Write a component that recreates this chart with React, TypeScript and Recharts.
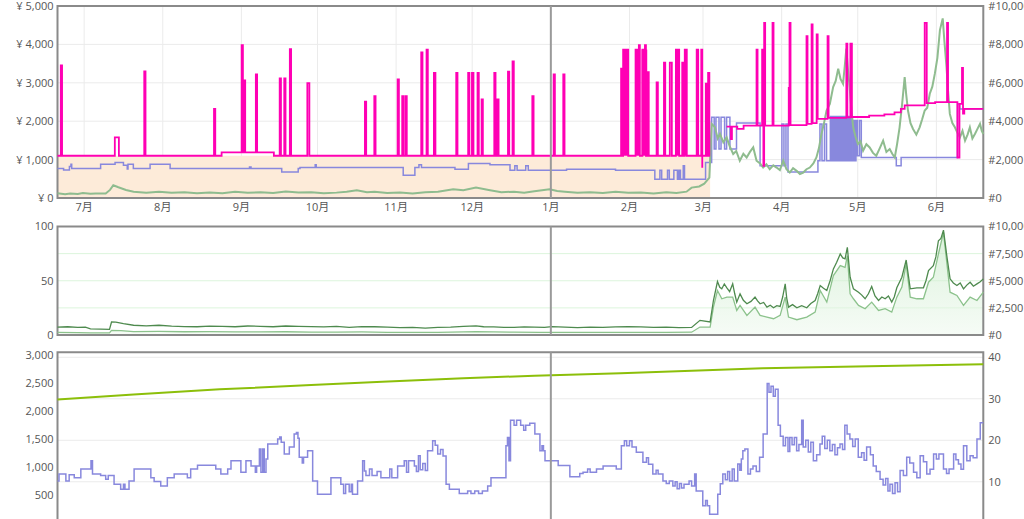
import React from 'react';
import { ComposedChart, Line, Area, XAxis, YAxis, CartesianGrid, ReferenceLine, ReferenceArea } from 'recharts';

type P = [number, number | null];

// x = days since 20 Jun
const monthTicks = [10.5, 41.5, 72.5, 102.5, 133.5, 163.5, 194.5, 225.5, 254.5, 285.5, 315.5, 346.5];
const monthLabels = ['7月', '8月', '9月', '10月', '11月', '12月', '1月', '2月', '3月', '4月', '5月', '6月'];
const yearMark = 194.5;

const priceTicks = [0, 1000, 2000, 3000, 4000, 5000];
const rankTicks = [0, 2000, 4000, 6000, 8000, 10000];
const pctTicks = [0, 50, 100];
const rank2Ticks = [0, 2500, 5000, 7500, 10000];
const countTicks = [500, 1000, 1500, 2000, 2500, 3000];
const offerTicks = [10, 20, 30, 40];

// top panel
const amazonPrice: P[] = [[0, 1100], [257.3, 1100]];
const buyBoxLevels: P[] = [[0, 1100], [64.7, 1190], [85.3, 1100], [257.3, 1100]];
// [day, price, duration]
const buyBoxSpikes = [
  [1.3, 3450, .5], [22.6, 1580, 1.6], [34.2, 3300, .5], [61.7, 2320, .5], [72.6, 3980, .5], [73.6, 3060, .4],
  [78.2, 3220, .5], [87.6, 3115, .5], [89.4, 3115, .5], [91.6, 3875, .5], [98.5, 2990, .8], [121.2, 2510, .5],
  [124.9, 2650, .5], [134.1, 3090, .5], [135.9, 2650, .5], [137.2, 2650, .5], [143.4, 3790, .5], [145.5, 3865, .5],
  [148.4, 3260, .6], [157.2, 3260, .5], [161.9, 3260, .5], [163.4, 3260, .6], [165.6, 3260, .5], [167.2, 2565, .5],
  [172.2, 3260, .5], [173.4, 2565, .5], [177.6, 3290, .5], [179.4, 3560, .5], [187.2, 2650, .5], [195.6, 3220, .5],
  [199.4, 3220, .5], [222.2, 3370, .6], [223, 3865, 2], [227.9, 3865, 1.7], [229.2, 3980, .4], [230.6, 3865, 1.9],
  [231.6, 3980, .4], [232.5, 3280, .6], [236.2, 3010, .5], [239.1, 3525, .5], [241.4, 3525, .8], [243.8, 3865, 1.3],
  [245.1, 3525, .4], [246.3, 3525, .5], [247.3, 3865, .8], [252, 3865, .6], [253.8, 3865, .4], [254.2, 790, .3],
  [255.6, 2975, .4], [256.5, 3255, .5],
];
const buyBoxLate: P[] = [
  [257.4, null], [263.8, 1860], [265.5, 1535], [265.9, 1860], [268, 1800], [270.5, 1885], [275.6, 3865], [276, 1885],
  [277.8, 3865], [278.3, 840], [278.6, 4560], [279, 1885], [281.9, 4560], [282.3, 1885], [288.3, 2870], [288.6, 4560],
  [289, 1900], [295.3, 4215], [295.7, 1930], [297.3, 4520], [297.7, 1950], [299.3, 4260], [299.7, 2060], [303.6, 4215],
  [304, 2085], [311, 4020], [311.4, 2100], [312.6, 4020], [313.2, 2110], [320, 2145], [326, 2180], [330, 2230],
  [332.5, 2320], [334, 2410], [341.9, 4560], [342.7, 2470], [346, 2495], [350.7, 4560], [351.1, 2495], [354.8, 1055],
  [355.6, 2450], [356.6, 3385], [357, 2200], [357.5, 2320], [365, 2320],
];
// [start, end, top]
const buyBoxBlocks = [[223, 225, 3865], [227.9, 229.6, 3865], [230.3, 232.5, 3865], [243.8, 245.1, 3865], [247.3, 248.1, 3865]];

const newPrice: P[] = [
  [0, 770], [2.4, 730], [4.7, 820], [5.3, 880], [5.6, 770], [17, 880], [22.7, 925], [26, 855], [27.5, 755], [27.8, 880],
  [29.9, 770], [36.5, 880], [44.4, 770], [75.7, 810], [76.3, 770], [88.4, 680], [94.9, 770], [95.6, 793], [101.6, 865],
  [102, 793], [136.3, 595], [140.9, 793], [142.5, 865], [143.5, 793], [156.7, 750], [162, 900], [170.5, 865], [178.4, 725],
  [180.3, 840], [181.2, 725], [184.6, 840], [185.6, 725], [200.7, 750], [220, 720], [235.5, 490], [237.5, 720], [238.2, 490],
  [240.5, 720], [241.2, 490], [243, 720], [244.4, 490], [245, 720], [245.6, 490], [246.7, 840], [247.2, 490], [255.5, 925],
  [257.9, 2100], [258.9, 1275], [259.6, 2100], [260.8, 1275], [261.6, 2100], [263, 1275], [263.8, 2100], [265.1, 1275],
  [267.7, 1950], [277, 840], [285.6, 1930], [286.4, 840], [287.2, 1930], [288, 680], [299.8, 970], [300.6, 1930],
  [301.4, 970], [302.4, 1930], [303.2, 970], [313.6, 2015], [314.2, 970], [314.8, 2015], [315.4, 1100], [316.2, 2015],
  [316.9, 1055], [330.7, 840], [332.6, 1055], [354.8, 2450], [355.7, 2320], [365, 2320],
];
const newPriceBlocks = [[304.4, 313.6, 970, 2145]];

const salesRank: P[] = [
  [0, 250], [3, 200], [5, 240], [8, 210], [10, 260], [13, 220], [15, 240], [19, 230], [20.7, 420], [22, 665], [24, 560],
  [27, 420], [30, 330], [35, 280], [40, 330], [45, 270], [50, 300], [55, 250], [60, 290], [65, 250], [70, 320], [75, 270],
  [80, 300], [85, 260], [90, 340], [95, 290], [100, 300], [105, 250], [110, 280], [114, 330], [118, 400], [122, 300],
  [125, 330], [130, 260], [135, 280], [140, 230], [145, 300], [150, 320], [156, 455], [160, 400], [165, 540], [170, 420],
  [175, 300], [180, 330], [184, 270], [188, 350], [194, 455], [197, 360], [200, 330], [205, 270], [210, 300], [215, 260],
  [220, 320], [225, 270], [230, 280], [235, 240], [240, 300], [244, 260], [248, 330], [250, 540], [253, 600], [255, 750],
  [257, 1060], [257.9, 3860], [259.2, 3680], [260.3, 3100], [261.2, 3335], [262.5, 2900], [263.8, 3160], [265, 2700],
  [266.4, 2290], [267.6, 2450], [269, 1940], [270.4, 2300], [271.7, 2110], [273, 2400], [274.3, 2635], [275.6, 1940],
  [277, 1800], [278.2, 1585], [279.5, 1750], [280.8, 1500], [282.2, 1700], [283.5, 1585], [284.8, 1450], [286.1, 1940],
  [287.4, 1500], [288.7, 1325], [290, 1550], [291.4, 1415], [292.7, 1250], [294, 1325], [295.3, 1500], [296.6, 1585],
  [298, 1800], [299.2, 2110], [300.2, 2600], [301.2, 3335], [302.2, 3900], [303.2, 4555], [304.5, 4900], [305.8, 5775],
  [306.8, 6100], [307.8, 6740], [308.7, 6200], [309.7, 5950], [310.4, 6900], [311, 7785], [311.7, 6600], [312.3, 5775],
  [313, 4600], [313.7, 3680], [314.6, 3200], [315.6, 2810], [316.6, 2950], [317.6, 2460], [318.9, 2800], [320.2, 2635],
  [321.5, 2350], [322.8, 2200], [324.2, 2600], [325.5, 2985], [326.8, 2400], [328.1, 2550], [329.1, 2300], [330.1, 2110],
  [331, 2800], [332, 3680], [333, 4900], [334, 6300], [334.6, 5400], [335.3, 4555], [336.3, 3900], [337.3, 3595],
  [338.6, 3300], [339.9, 3680], [340.9, 4100], [341.9, 4555], [342.9, 4700], [343.9, 5430], [344.9, 5800], [345.9, 6475],
  [346.9, 7300], [347.9, 8745], [349, 9355], [349.7, 8100], [350.5, 6820], [351.1, 5600], [351.8, 4380], [352.8, 3900],
  [353.8, 3680], [354.8, 3400], [355.8, 3160], [356.8, 3500], [357.8, 2985], [358.8, 3300], [359.7, 3680], [360.7, 3100],
  [361.7, 3335], [362.7, 3600], [363.7, 3860], [364.4, 3500], [365, 3335],
];

// middle panel
const rankHigh: P[] = [
  [0, 730], [4, 760], [8, 700], [11, 720], [13, 560], [17, 540], [20.5, 520], [21.3, 1200], [23, 1180], [26, 1050],
  [30, 900], [35, 850], [40, 900], [45, 820], [50, 780], [55, 760], [60, 820], [65, 800], [70, 760], [75, 830], [80, 800],
  [85, 760], [90, 830], [95, 800], [100, 780], [105, 740], [110, 800], [115, 700], [120, 780], [125, 760], [130, 720],
  [135, 680], [140, 700], [145, 640], [150, 700], [155, 720], [160, 800], [165, 850], [168, 760], [172, 740], [176, 700],
  [180, 700], [184, 740], [188, 720], [192, 700], [195, 780], [200, 720], [205, 680], [210, 720], [215, 700], [220, 740],
  [225, 760], [230, 740], [235, 700], [240, 730], [245, 680], [250, 700], [253.3, 1350], [257.3, 1200], [258.6, 3180],
  [260.2, 4925], [261.1, 4400], [261.9, 4255], [262.9, 4700], [263.9, 4350], [265, 4000], [266.2, 4715], [267, 3800],
  [267.8, 3030], [269.1, 3790], [270.4, 3200], [271.8, 2880], [273.4, 3100], [275, 3490], [276, 3150], [277, 2880],
  [278.4, 3000], [279.7, 2570], [281, 2750], [282.3, 2510], [283.6, 2700], [284.9, 2630], [285.9, 3500], [286.9, 4715],
  [287.5, 3400], [288.2, 2570], [289.8, 2800], [291.5, 2510], [293.4, 2700], [295.4, 2510], [297, 2900], [298.7, 3180],
  [299.7, 3800], [300.7, 4560], [302, 4300], [303.3, 4100], [304.6, 5000], [305.9, 6090], [307.2, 6700], [308.6, 7465],
  [309.6, 7100], [310.5, 7010], [311.4, 8075], [312.5, 5320], [313.8, 4255], [315.8, 3945], [317, 3700], [318.4, 3340],
  [319.7, 3800], [321, 4470], [322.3, 3600], [323.7, 3180], [325, 3500], [326.3, 3340], [327.6, 3600], [328.9, 3030],
  [329.9, 3500], [330.9, 4350], [332.9, 5320], [334.6, 6915], [336.2, 4255], [338.8, 4350], [341.4, 4350], [342.4, 5000],
  [343.4, 5935], [345.3, 6395], [346.3, 7200], [347.3, 8690], [348.3, 8900], [349.3, 9670], [350.6, 7310], [351.9, 5175],
  [353.2, 4800], [354.6, 4560], [355.9, 4800], [357.2, 4255], [358.5, 4600], [359.8, 4865], [361.1, 4500], [362.5, 4715],
  [363.8, 4900], [365, 5175],
];
const rankLow: P[] = [
  [0, 250], [8, 220], [13, 200], [20.5, 190], [21.3, 420], [25, 400], [30, 320], [40, 330], [50, 300], [60, 310],
  [70, 280], [80, 290], [90, 300], [100, 270], [110, 260], [120, 280], [130, 250], [140, 240], [150, 250], [160, 280],
  [165, 320], [172, 280], [180, 260], [190, 250], [200, 250], [210, 240], [220, 250], [230, 240], [240, 250], [250, 260],
  [253.3, 735], [257.3, 735], [258.6, 2570], [260.2, 4100], [261.9, 3340], [263.9, 3490], [266.2, 3490], [267.8, 2265],
  [269.1, 2725], [271.8, 1810], [275, 2570], [277, 1810], [279.7, 1650], [282.3, 1500], [284.9, 1810], [286.9, 3490],
  [288.2, 1650], [291.5, 1410], [295.4, 1650], [298.7, 2110], [300.7, 4100], [303.3, 3030], [305.9, 5475], [308.6, 6395],
  [310.5, 6240], [311.4, 7310], [312.5, 3790], [313.8, 3340], [315.8, 2725], [318.4, 2420], [321, 3030], [323.7, 2265],
  [326.3, 2420], [328.9, 2110], [330.9, 3490], [332.9, 4410], [334.6, 6550], [336.2, 3490], [338.8, 3340], [341.4, 3340],
  [343.4, 4865], [345.3, 5320], [347.3, 7465], [349.3, 9460], [350.6, 6700], [351.9, 3945], [354.6, 3640], [357.2, 2725],
  [359.8, 3490], [362.5, 3180], [365, 3945],
];

// bottom panel
const ratingCount: P[] = [
  [0, 2205], [30, 2290], [64, 2384], [100, 2460], [128, 2520], [160, 2580], [188, 2626], [222, 2669], [250, 2715],
  [278, 2758], [320, 2795], [365, 2829],
];
const offerCount: P[] = [
  [0, 10.2], [0.6, 11.9], [3.3, 10.2], [4.6, 11.7], [6.6, 11], [9.2, 13.1], [13.2, 15.1], [13.8, 11.9], [17, 11.5],
  [19, 10.6], [20, 11.5], [22.3, 9.4], [24.9, 8.2], [26, 9.4], [26.6, 8.2], [28.2, 10.2], [30.2, 13.1], [36.8, 11],
  [38.1, 10.1], [40.7, 9], [43.3, 11], [46, 11.9], [51.2, 11], [52.5, 13.1], [55.2, 14], [62.4, 13.1], [64.4, 11.9],
  [67.1, 13.1], [68.4, 15.1], [72.3, 12.3], [74.3, 15.1], [76.3, 13.8], [78, 12.3], [78.5, 13.8], [79.6, 17.9],
  [80.2, 12.3], [80.9, 17.9], [81.5, 12.3], [82.2, 15.5], [82.9, 19.1], [86.8, 20.3], [87.6, 20.8], [88.2, 19.5],
  [89.4, 16.7], [91.4, 18.4], [93.3, 21.5], [94.2, 21.9], [94.8, 20.5], [95.3, 15.9], [96.5, 14.5], [97, 15.9],
  [98.6, 17.5], [100.6, 10.2], [102.5, 7], [107.8, 11], [111.7, 9.4], [112.8, 7.2], [113.6, 9.4], [115, 7.6],
  [115.8, 9.4], [116.3, 7], [118.3, 10.2], [120.3, 15.1], [121, 12.6], [121.6, 11.5], [123, 13.1], [124, 11.5],
  [126, 12.5], [127.5, 11], [131, 13.1], [131.8, 11], [134.1, 13.8], [136.7, 15.1], [137.6, 12.3], [138.4, 15.1],
  [140.7, 13.8], [141.5, 12.5], [142.3, 16.3], [143, 12.9], [144, 14.4], [145, 12.7], [145.9, 17.5], [147.9, 19.9],
  [148.9, 18.8], [149.9, 16.7], [151, 17.8], [152, 16.2], [153.2, 9.4], [154.5, 8.2], [158.4, 7.2], [161.7, 7.8],
  [163, 7.2], [164.5, 7.8], [166, 7.2], [167.5, 7.8], [169.6, 9], [170.9, 11], [176.8, 18.7], [177.4, 20.7], [178, 15.1],
  [178.6, 24.8], [180, 23.6], [181, 24.8], [182.6, 23.6], [183.8, 22.4], [184.6, 23.6], [186.2, 24.1], [188.2, 21.5],
  [190.2, 17.5], [191, 18.7], [191.6, 17.5], [192.2, 15.1], [197.4, 13.9], [202, 11.2], [205.9, 12], [207.2, 12.3],
  [209, 13.1], [210, 12.3], [212.5, 13.1], [215.1, 13.8], [220.3, 13.1], [222.3, 18.7], [223.5, 19.9], [224.4, 18.7],
  [225.5, 19.9], [226.5, 18.4], [228.2, 17.1], [230.8, 14.7], [232.2, 15.8], [233, 14.2], [234.7, 11.9], [236, 12.8],
  [236.8, 11.9], [238.7, 10.2], [240, 9.6], [241.2, 10.2], [242.6, 9], [243.5, 10], [244.3, 8.3], [245.2, 9.6],
  [246, 8.5], [247, 9.4], [249, 10.2], [250, 9], [251.2, 11.9], [251.8, 7.8], [254.4, 4.2], [255.5, 5.5], [256.2, 4.2],
  [257.1, 2.2], [260.3, 7], [261.3, 9.5], [262.3, 11.9], [263.3, 10.5], [264.2, 12.5], [265, 10.2], [266, 13.1],
  [266.8, 10.2], [268.2, 14.3], [269, 12.8], [269.6, 15.5], [270.2, 17.5], [271, 17.9], [272.2, 11.9], [273.2, 13.1],
  [274.2, 13.8], [275.5, 12.5], [276.8, 15.9], [278.2, 21.5], [279.8, 33.7], [280.5, 31.6], [281.3, 33], [282.2, 30.6],
  [283, 32.3], [284.1, 23.6], [285, 21], [286.1, 18.7], [287, 20.7], [288, 17.3], [288.7, 20.7], [289.6, 18.9],
  [290.5, 20.7], [291.4, 17.5], [292.3, 19], [293.4, 24.8], [294, 18.4], [295, 20], [296, 17.2], [297, 19.5], [298, 15.1],
  [299.3, 16.5], [300.6, 19.1], [301.5, 21], [302.5, 18], [303.5, 20], [304.5, 17.5], [305.5, 19], [306.5, 16.5],
  [307.5, 18.2], [308.5, 19.1], [309.5, 17.8], [310.4, 23.6], [311.3, 21.5], [312.4, 20.3], [313.5, 18.5], [314.5, 20.3],
  [315.7, 15.9], [317, 17], [318, 15.2], [319, 18.4], [320.5, 16.5], [321.6, 13.8], [322.8, 12.5], [324.3, 10.6],
  [325.5, 9.2], [326.5, 10.8], [327.4, 7.8], [328.2, 9.4], [329.2, 7.2], [330.2, 9.8], [331.2, 7.6], [332.2, 12.7],
  [333.5, 11.5], [334.8, 15.9], [336, 14.5], [337.5, 12.3], [338.8, 11], [340.1, 16.3], [341.4, 14.8], [342.7, 11.9],
  [344, 13], [345.4, 16.7], [346.5, 15.5], [347.5, 16.7], [349.3, 13.1], [350.5, 12], [351.5, 13.1], [353.3, 16.7],
  [354.2, 15.3], [355.2, 14.3], [356.2, 13], [357.2, 18.7], [358.5, 15.1], [359.8, 16.3], [361, 15.8], [362.5, 20.3],
  [363.8, 24.2], [365, 24.2],
];

const pts = (arr: P[], k = 1) => arr.map(([x, y]) => ({ x, y: y === null ? null : y * k }));

function withSpikes(levels: P[], spikes: number[][]) {
  const levelAt = (x: number) => {
    let v = levels[0][1];
    levels.forEach(([lx, lv]) => { if (lx <= x) v = lv; });
    return v;
  };
  const all: P[] = [...levels];
  spikes.forEach(([x, h, w]) => {
    all.push([x, h]);
    all.push([x + w, levelAt(x + w)]);
  });
  return all.sort((a, b) => a[0] - b[0]);
}

const buyBox = pts([...withSpikes(buyBoxLevels, buyBoxSpikes), ...buyBoxLate]);

const FONT = '"Open Sans", "Noto Sans CJK JP", sans-serif';
const tickStyle = { fill: '#555', fontSize: 11 };
const GRID = '#ebebeb';
const BORDER = '#8a8a8a';
const PINK = '#ff00b4';
const BLUE = '#8888dd';
const RANK = '#8fbc8f';
const fmt = (v: number) => v.toLocaleString('en-US');

const xAxisHidden = (
  <XAxis type="number" dataKey="x" domain={[0, 365]} ticks={monthTicks} height={0} tick={false} axisLine={false} tickLine={false} />
);

export default function App() {
  return (
    <div style={{ position: 'fixed', left: 0, top: 0, width: 1024, height: 519, overflow: 'hidden', background: '#fff', fontFamily: FONT }}>
      <style>{'svg.recharts-surface { overflow: visible; } .recharts-wrapper { overflow: visible; }'}</style>
      <div style={{ position: 'absolute', left: 0, top: 0 }}>
        <ComposedChart width={1024} height={220} margin={{ top: 6, right: 0, bottom: 0, left: 0 }}>
          <XAxis type="number" dataKey="x" domain={[0, 365]} ticks={monthTicks} interval={0}
            tickFormatter={(v) => monthLabels[monthTicks.indexOf(v)]} height={22} tickSize={0} tickMargin={5}
            axisLine={false} tickLine={false} tick={tickStyle} />
          <YAxis yAxisId="left" domain={[0, 5000]} ticks={priceTicks} interval={0} width={57.5} tickSize={0} tickMargin={4}
            axisLine={false} tickLine={false} tick={tickStyle} tickFormatter={(v) => '¥ ' + fmt(v)} />
          <YAxis yAxisId="right" orientation="right" domain={[0, 10000]} ticks={rankTicks} interval={0} width={40.7}
            tickSize={0} tickMargin={5} axisLine={false} tickLine={false} tick={tickStyle} tickFormatter={(v) => '#' + fmt(v)} />
          <CartesianGrid yAxisId="left" stroke={GRID} />
          <Area yAxisId="left" data={pts(amazonPrice)} dataKey="y" type="stepAfter" stroke="none" fill="#fdebd9" fillOpacity={1} isAnimationActive={false} />
          {newPriceBlocks.map(([s, e, lo, hi], i) => (
            <Area key={'nb' + i} yAxisId="left" data={[{ x: s, v: [lo, hi] }, { x: e, v: [lo, hi] }]} dataKey="v"
              type="linear" stroke="none" fill={BLUE} fillOpacity={1} isAnimationActive={false} />
          ))}
          <Line yAxisId="left" data={pts(newPrice)} dataKey="y" type="stepAfter" stroke={BLUE} strokeWidth={1.5} dot={false} isAnimationActive={false} />
          <Line yAxisId="right" data={pts(salesRank)} dataKey="y" type="linear" stroke={RANK} strokeWidth={2} dot={false} isAnimationActive={false} />
          {buyBoxBlocks.map(([s, e, hi], i) => (
            <Area key={'bb' + i} yAxisId="left" data={[{ x: s, v: [1100, hi] }, { x: e, v: [1100, hi] }]} dataKey="v"
              type="linear" stroke="none" fill={PINK} fillOpacity={1} isAnimationActive={false} />
          ))}
          <Line yAxisId="left" data={buyBox} dataKey="y" type="stepAfter" stroke={PINK} strokeWidth={1.8} dot={false} isAnimationActive={false} />
          <ReferenceLine yAxisId="left" x={yearMark} stroke="#9a9a9a" strokeWidth={2} />
          <ReferenceArea yAxisId="left" x1={0} x2={365} y1={0} y2={5000} fill="none" stroke={BORDER} strokeWidth={2} />
        </ComposedChart>
      </div>

      <div style={{ position: 'absolute', left: 0, top: 220 }}>
        <ComposedChart width={1024} height={116} margin={{ top: 6.5, right: 0, bottom: 1, left: 0 }}>
          <defs>
            <linearGradient id="rankFill" x1="0" y1="0" x2="0" y2="1">
              <stop offset="0%" stopColor="#bfe6bf" stopOpacity={0.9} />
              <stop offset="100%" stopColor="#eef9ee" stopOpacity={0.9} />
            </linearGradient>
          </defs>
          {xAxisHidden}
          <YAxis yAxisId="left" domain={[0, 100]} ticks={pctTicks} interval={0} width={57.5} tickSize={0} tickMargin={4}
            axisLine={false} tickLine={false} tick={tickStyle} />
          <YAxis yAxisId="right" orientation="right" domain={[0, 10000]} ticks={rank2Ticks} interval={0} width={40.7}
            tickSize={0} tickMargin={5} axisLine={false} tickLine={false} tick={tickStyle} tickFormatter={(v) => '#' + fmt(v)} />
          <CartesianGrid yAxisId="right" stroke="#dcf5dc" vertical={false} />
          <CartesianGrid yAxisId="right" stroke={GRID} horizontal={false} />
          {/* fill drawn on the 0-100 scale (rank / 100) */}
          <Area yAxisId="left" data={pts(rankLow, 0.01)} dataKey="y" type="linear" stroke="none" fill="url(#rankFill)" isAnimationActive={false} />
          <Line yAxisId="right" data={pts(rankLow)} dataKey="y" type="linear" stroke="#8cc28c" strokeWidth={1.3} dot={false} isAnimationActive={false} />
          <Line yAxisId="right" data={pts(rankHigh)} dataKey="y" type="linear" stroke="#4e8a4e" strokeWidth={1.3} dot={false} isAnimationActive={false} />
          <ReferenceLine yAxisId="right" x={yearMark} stroke="#9a9a9a" strokeWidth={2} />
          <ReferenceArea yAxisId="right" x1={0} x2={365} y1={0} y2={10000} fill="none" stroke={BORDER} strokeWidth={2} />
        </ComposedChart>
      </div>

      <div style={{ position: 'absolute', left: 0, top: 340 }}>
        <ComposedChart width={1024} height={184} margin={{ top: 12.3, right: 0, bottom: 0.7, left: 0 }}>
          {xAxisHidden}
          <YAxis yAxisId="left" domain={[0, 3043]} ticks={countTicks} interval={0} width={57.5} tickSize={0} tickMargin={4}
            axisLine={false} tickLine={false} tick={tickStyle} tickFormatter={fmt} />
          <YAxis yAxisId="right" orientation="right" domain={[0, 41.2]} ticks={offerTicks} interval={0} width={40.7}
            tickSize={0} tickMargin={5} axisLine={false} tickLine={false} tick={tickStyle} />
          <CartesianGrid yAxisId="right" stroke={GRID} />
          <Line yAxisId="left" data={pts(ratingCount)} dataKey="y" type="linear" stroke="#8cbf0a" strokeWidth={2} dot={false} isAnimationActive={false} />
          <Line yAxisId="right" data={pts(offerCount)} dataKey="y" type="stepAfter" stroke={BLUE} strokeWidth={1.5} dot={false} isAnimationActive={false} />
          <ReferenceLine yAxisId="right" x={yearMark} stroke="#9a9a9a" strokeWidth={2} />
          <ReferenceArea yAxisId="right" x1={0} x2={365} y1={0} y2={41.2} fill="none" stroke={BORDER} strokeWidth={2} />
        </ComposedChart>
      </div>
    </div>
  );
}
